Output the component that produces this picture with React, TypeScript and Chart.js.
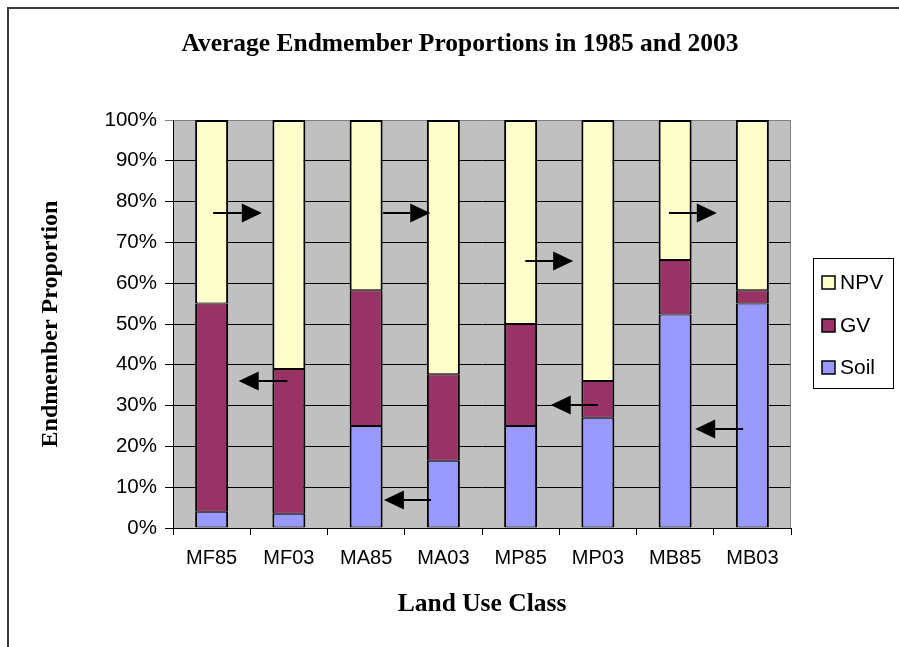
import React, { useEffect, useRef } from "react";
import { Chart, registerables, layouts } from "chart.js";

Chart.register(...registerables);

// ---- data ----
const categories = ["MF85", "MF03", "MA85", "MA03", "MP85", "MP03", "MB85", "MB03"];
const soilValues = [4, 3.5, 25, 16.5, 25, 27, 52.3, 55];
const gvValues = [51, 35.5, 33.3, 21.2, 25, 9, 13.4, 3.3];
const npvValues = [45, 61, 41.7, 62.3, 50, 64, 34.3, 41.7];
const seriesNames = ["Soil", "GV", "NPV"];
const seriesColors = ["#9999FF", "#993366", "#FFFFCC"];

// arrows: category-index positions (tail -> tip) and height in percent
const arrowFrom = [0.02, 0.98, 2.84, 2.22, 4.06, 5.0, 5.92, 6.88];
const arrowTo = [0.65, 0.35, 2.23, 2.83, 4.68, 4.39, 6.54, 6.26];
const arrowY = [77.2, 36, 6.9, 77.2, 65.4, 30.1, 77.2, 24.3];

const titleText = "Average Endmember Proportions in 1985 and 2003";
const xTitle = "Land Use Class";
const yTitle = "Endmember Proportion";

const SERIF = "'Liberation Serif', 'Times New Roman', serif";
const SANS = "'Liberation Sans', Arial, sans-serif";

const backgroundPlugin = {
  id: "bgFrame",
  beforeDraw(chart: any) {
    const { ctx, chartArea } = chart;
    ctx.save();
    ctx.fillStyle = "#FFFFFF";
    ctx.fillRect(0, 0, chart.width, chart.height);
    // outer frame
    ctx.strokeStyle = "#3a3a3a";
    ctx.lineWidth = 2;
    ctx.beginPath();
    ctx.moveTo(8, chart.height + 2);
    ctx.lineTo(8, 8);
    ctx.lineTo(chart.width + 2, 8);
    ctx.stroke();
    // plot area
    ctx.fillStyle = "#C0C0C0";
    ctx.fillRect(chartArea.left, chartArea.top, chartArea.right - chartArea.left, chartArea.bottom - chartArea.top);
    ctx.restore();
  },
  beforeDatasetsDraw(chart: any) {
    const { ctx, chartArea } = chart;
    ctx.save();
    ctx.strokeStyle = "#808080";
    ctx.lineWidth = 1;
    ctx.beginPath();
    ctx.moveTo(Math.round(chartArea.right) - 0.5, chartArea.top);
    ctx.lineTo(Math.round(chartArea.right) - 0.5, chartArea.bottom);
    ctx.stroke();
    ctx.restore();
  },
};

const arrowPlugin = {
  id: "arrows",
  afterDatasetsDraw(chart: any) {
    const { ctx } = chart;
    const xs = chart.scales.x;
    const ys = chart.scales.y;
    ctx.save();
    ctx.strokeStyle = "#000";
    ctx.fillStyle = "#000";
    ctx.lineWidth = 2;
    for (let i = 0; i < arrowFrom.length; i++) {
      const x0 = xs.getPixelForValue(arrowFrom[i]);
      const x1 = xs.getPixelForValue(arrowTo[i]);
      const y = Math.round(ys.getPixelForValue(arrowY[i]));
      const dir = x1 > x0 ? 1 : -1;
      const headLen = 20;
      const headHalf = 9.5;
      ctx.beginPath();
      ctx.moveTo(x0, y);
      ctx.lineTo(x1 - dir * headLen, y);
      ctx.stroke();
      ctx.beginPath();
      ctx.moveTo(x1, y);
      ctx.lineTo(x1 - dir * headLen, y - headHalf);
      ctx.lineTo(x1 - dir * headLen, y + headHalf);
      ctx.closePath();
      ctx.fill();
    }
    ctx.restore();
  },
};

const legendBoxPlugin = {
  id: "boxLegend",
  start(chart: any) {
    const box: any = {
      position: "right",
      weight: 1000,
      fullSize: false,
      options: { stack: undefined, stackWeight: 1 },
      width: 0,
      height: 0,
      left: 0,
      top: 0,
      right: 0,
      bottom: 0,
      isHorizontal() {
        return false;
      },
      update(maxWidth: number, maxHeight: number) {
        this.width = 108;
        this.height = maxHeight;
      },
      draw() {
        const { ctx, chartArea } = chart;
        const left = chartArea.right + 22;
        const right = chartArea.right + 102;
        const cy = (chartArea.top + chartArea.bottom) / 2 - 1;
        const top = cy - 65;
        const bottom = cy + 65;
        ctx.save();
        ctx.fillStyle = "#FFFFFF";
        ctx.fillRect(left, top, right - left, bottom - top);
        ctx.strokeStyle = "#000";
        ctx.lineWidth = 1;
        ctx.strokeRect(Math.round(left) + 0.5, Math.round(top) + 0.5, right - left, bottom - top);
        const offsets = [-41, 1.5, 44];
        const order = [2, 1, 0];
        ctx.font = "21px " + SANS;
        ctx.textBaseline = "middle";
        ctx.textAlign = "left";
        order.forEach((idx, k) => {
          const y = Math.round(cy + offsets[k]);
          ctx.fillStyle = seriesColors[idx];
          ctx.fillRect(left + 9, y - 6, 13, 13);
          ctx.strokeStyle = "#000";
          ctx.lineWidth = 1.5;
          ctx.strokeRect(left + 9, y - 6, 13, 13);
          ctx.fillStyle = "#000";
          ctx.fillText(seriesNames[idx], left + 27, y + 1);
        });
        ctx.restore();
      },
    };
    chart.$boxLegend = box;
    layouts.addBox(chart, box);
  },
  stop(chart: any) {
    if (chart.$boxLegend) layouts.removeBox(chart, chart.$boxLegend);
  },
};

export default function App() {
  const canvasRef = useRef<HTMLCanvasElement | null>(null);

  useEffect(() => {
    const canvas = canvasRef.current;
    if (!canvas) return;
    Chart.defaults.color = "#000";
    const datasetValues = [soilValues, gvValues, npvValues];
    const chart = new Chart(canvas, {
      type: "bar",
      data: {
        labels: categories,
        datasets: datasetValues.map((vals, i) => ({
          label: seriesNames[i],
          data: vals,
          backgroundColor: seriesColors[i],
          borderColor: "#000",
          borderWidth: { left: 2, right: 2, top: i === 2 ? 2 : 1, bottom: 1 },
          borderSkipped: false,
          barPercentage: 0.427,
          categoryPercentage: 1,
        })),
      },
      options: {
        responsive: false,
        animation: false,
        devicePixelRatio: 1,
        layout: { padding: { left: 21, right: 0, top: 0, bottom: 0 } },
        plugins: {
          legend: { display: false },
          tooltip: { enabled: false },
          title: {
            display: true,
            text: titleText,
            color: "#000",
            font: { family: SERIF, size: 25.5, weight: "bold" },
            padding: { top: 29, bottom: 60.4 },
          },
        },
        scales: {
          x: {
            stacked: true,
            afterFit(scale: any) {
              scale.height = 119;
            },
            grid: {
              display: true,
              drawOnChartArea: false,
              drawTicks: true,
              tickLength: 7,
              color: "#000",
              offset: true,
            },
            border: { display: true, color: "#000", width: 1 },
            ticks: {
              color: "#000",
              padding: 11,
              font: { family: SANS, size: 20 },
              maxRotation: 0,
              autoSkip: false,
            },
            title: {
              display: true,
              text: xTitle,
              color: "#000",
              font: { family: SERIF, size: 25.5, weight: "bold" },
              padding: { top: 0, bottom: 27 },
            },
          },
          y: {
            stacked: true,
            min: 0,
            max: 100,
            afterFit(scale: any) {
              scale.width = 152;
            },
            grid: {
              display: true,
              drawOnChartArea: true,
              drawTicks: true,
              tickLength: 8,
              color: (c: any) => (c.tick && c.tick.value === 100 ? "#808080" : "#000"),
            },
            border: { display: true, color: "#000", width: 1 },
            ticks: {
              stepSize: 10,
              color: "#000",
              padding: 8,
              font: { family: SANS, size: 20.5 },
              callback: (v: any) => v + "%",
            },
            title: {
              display: true,
              text: yTitle,
              color: "#000",
              font: { family: SERIF, size: 24, weight: "bold" },
              padding: { top: 15, bottom: 0 },
            },
          },
        },
      },
      plugins: [backgroundPlugin, arrowPlugin, legendBoxPlugin],
    } as any);
    return () => chart.destroy();
  }, []);

  return (
    <div style={{ position: "fixed", left: 0, top: 0, width: 899, height: 647, background: "#fff" }}>
      <canvas ref={canvasRef} width={899} height={647} style={{ display: "block" }} />
    </div>
  );
}
